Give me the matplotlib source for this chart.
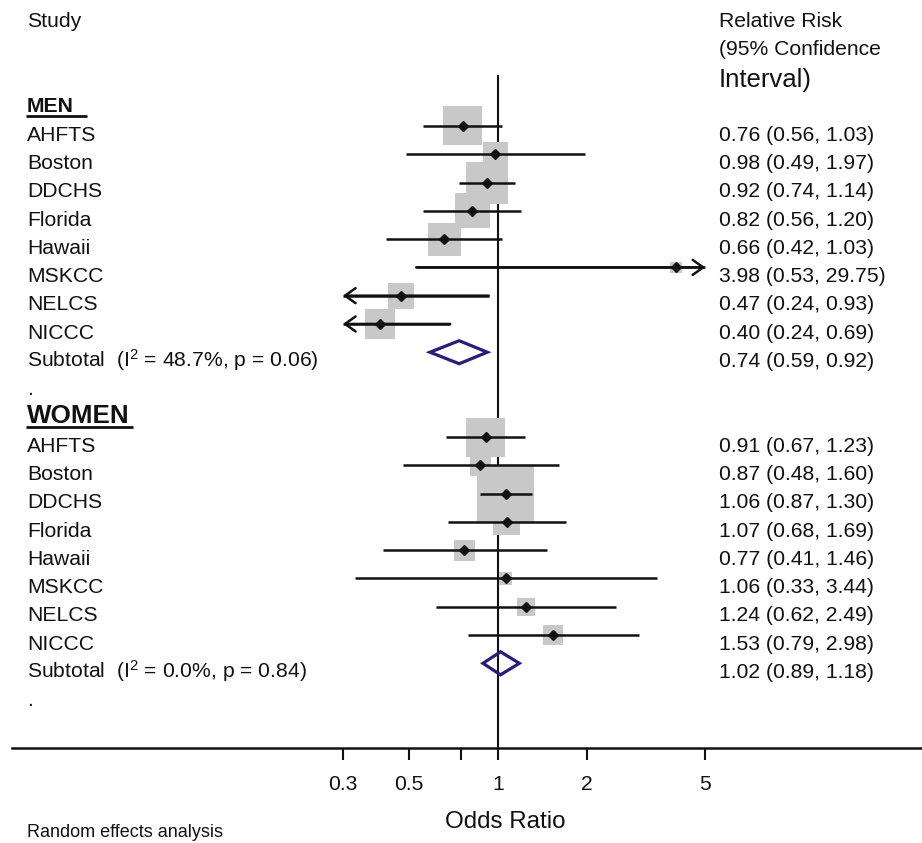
import numpy as np
import matplotlib
matplotlib.use('Agg')
import matplotlib.pyplot as plt
from matplotlib.lines import Line2D
from matplotlib.ticker import NullLocator

plt.rcParams['font.family'] = ['Liberation Sans', 'DejaVu Sans']
plt.rcParams['mathtext.fontset'] = 'custom'
plt.rcParams['mathtext.rm'] = 'Liberation Sans'
plt.rcParams['mathtext.it'] = 'Liberation Sans:italic'
plt.rcParams['mathtext.bf'] = 'Liberation Sans:bold'

# ---------------- data ----------------
studies = ['AHFTS', 'Boston', 'DDCHS', 'Florida', 'Hawaii', 'MSKCC', 'NELCS', 'NICCC']

men_rr = [0.76, 0.98, 0.92, 0.82, 0.66, 3.98, 0.47, 0.40]
men_lo = [0.56, 0.49, 0.74, 0.56, 0.42, 0.53, 0.24, 0.24]
men_hi = [1.03, 1.97, 1.14, 1.20, 1.03, 29.75, 0.93, 0.69]
men_weight = [9.9, 4.2, 11.5, 8.0, 7.1, 0.8, 4.4, 5.9]
men_subtotal = [0.74, 0.59, 0.92]
men_i2 = '48.7%'
men_p = '0.06'

women_rr = [0.91, 0.87, 1.06, 1.07, 0.77, 1.06, 1.24, 1.53]
women_lo = [0.67, 0.48, 0.87, 0.68, 0.41, 0.33, 0.62, 0.79]
women_hi = [1.23, 1.60, 1.30, 1.69, 1.46, 3.44, 2.49, 2.98]
women_weight = [9.9, 2.9, 21.2, 4.7, 2.9, 1.0, 2.1, 2.5]
women_subtotal = [1.02, 0.89, 1.18]
women_i2 = '0.0%'
women_p = '0.84'

tick_values = [0.3, 0.5, 0.75, 1, 2, 5]
tick_labels = ['0.3', '0.5', '', '1', '2', '5']

# ---------------- layout ----------------
W, H, DPI = 922, 843, 100
PPD = 296.7        # pixels per decade on x
X1_PX = 498        # pixel position of x = 1
ROW0_PX = 97.7     # pixel y of row 0
ROW_PX = 28.28     # pixel per row
FS = 15.2
TXT = '#111111'
LINE = '#111111'
BOX = '#c8c8c8'
DIAM = '#2c1b7a'

fig = plt.figure(figsize=(W / DPI, H / DPI), dpi=DPI)
ax = fig.add_axes([0, 0, 1, 1])
ax.set_xscale('log')
ax.set_xlim(10 ** (-X1_PX / PPD), 10 ** ((W - X1_PX) / PPD))
ax.set_ylim((H - ROW0_PX) / ROW_PX, -ROW0_PX / ROW_PX)
ax.patch.set_alpha(0)

clip_lo, clip_hi = min(tick_values), max(tick_values)
axis_row = 23
tr_lab = ax.get_yaxis_transform()
BASE = 0.52  # baseline offset (rows) of text below row line

def fpx(x, y):
    return x / W, 1 - y / H

# vertical null line
ax.plot([1, 1], [-0.8, axis_row], color=LINE, lw=1.5, zorder=1, solid_capstyle='butt')

def draw_group(header_row, rr, lo, hi, wt, sub, i2, p, header, header_fs, ul_end):
    rows = np.arange(header_row + 1, header_row + 1 + len(rr))
    # header
    ax.text(27 / W, header_row + BASE, header, transform=tr_lab, fontsize=header_fs,
            fontweight='bold', color=TXT, va='baseline', ha='left')
    yline = ROW0_PX + (header_row + 0.645) * ROW_PX
    fig.add_artist(Line2D([26 / W, ul_end / W], [1 - yline / H] * 2, transform=fig.transFigure,
                          color=TXT, lw=2.0, solid_capstyle='butt'))
    # boxes
    sides_pt = 12.39 * np.sqrt(np.array(wt)) * 72 / DPI
    ax.scatter(rr, rows, s=sides_pt ** 2, marker='s', color=BOX, linewidths=0, zorder=2)
    # CI lines
    for r, l, h, y in zip(rr, lo, hi, rows):
        lc, hc = max(l, clip_lo), min(h, clip_hi)
        ax.plot([lc, hc], [y, y], color=LINE, lw=1.8, zorder=3, solid_capstyle='butt')
        arrow = dict(arrowstyle='->,head_length=0.38,head_width=0.27', lw=1.8, color=LINE,
                     shrinkA=0, shrinkB=0, mutation_scale=20)
        if l < clip_lo:
            ax.annotate('', xy=(lc, y), xytext=(hc, y), arrowprops=arrow, zorder=3)
        if h > clip_hi:
            ax.annotate('', xy=(hc, y), xytext=(lc, y), arrowprops=arrow, zorder=3)
    ax.plot(rr, rows, linestyle='none', marker='D', ms=5, color=LINE, zorder=4)
    # labels
    for name, r, l, h, y in zip(studies, rr, lo, hi, rows):
        ax.text(27 / W, y + BASE, name, transform=tr_lab, fontsize=FS, color=TXT, va='baseline')
        ax.text(719 / W, y + BASE, f'{r:.2f} ({l:.2f}, {h:.2f})', transform=tr_lab,
                fontsize=FS, color=TXT, va='baseline')
    # subtotal diamond
    srow = rows[-1] + 1
    e, sl, sh = sub
    hh = 0.407
    ax.fill([sl, e, sh, e, sl], [srow, srow - hh, srow, srow + hh, srow], facecolor='none',
            edgecolor=DIAM, lw=2.3, zorder=3, joinstyle='miter')
    ax.text(27 / W, srow + BASE, f'Subtotal  (I$^2$ = {i2}, p = {p})', transform=tr_lab,
            fontsize=FS, color=TXT, va='baseline')
    ax.text(719 / W, srow + BASE, f'{e:.2f} ({sl:.2f}, {sh:.2f})', transform=tr_lab,
            fontsize=FS, color=TXT, va='baseline')
    ax.text(27 / W, srow + 1 + BASE, '.', transform=tr_lab, fontsize=FS, color=TXT, va='baseline')

draw_group(0, men_rr, men_lo, men_hi, men_weight, men_subtotal, men_i2, men_p, 'MEN', FS, 87)
draw_group(11, women_rr, women_lo, women_hi, women_weight, women_subtotal, women_i2, women_p,
           'WOMEN', 18.7, 133)

# axis
for s in ['left', 'right', 'top']:
    ax.spines[s].set_visible(False)
ax.spines['bottom'].set_position(('data', axis_row))
ax.spines['bottom'].set_linewidth(1.8)
ax.spines['bottom'].set_color(LINE)
ax.spines['bottom'].set_bounds(10 ** ((12 - X1_PX) / PPD), ax.get_xlim()[1])
ax.set_xticks(tick_values)
ax.set_xticklabels(tick_labels)
ax.xaxis.set_minor_locator(NullLocator())
ax.set_yticks([])
ax.tick_params(axis='x', direction='out', length=8.6, width=1.5, pad=11, labelsize=FS,
               colors=LINE, labelcolor=TXT)

# header and footer texts
fig.text(*fpx(27, 27), 'Study', fontsize=FS, color=TXT, va='baseline')
fig.text(*fpx(719, 26.7), 'Relative Risk', fontsize=FS, color=TXT, va='baseline')
fig.text(*fpx(719, 55), '(95% Confidence', fontsize=FS, color=TXT, va='baseline')
fig.text(*fpx(719, 87.3), 'Interval)', fontsize=18.5, color=TXT, va='baseline')
fig.text(*fpx(505, 828), 'Odds Ratio', fontsize=17.4, color=TXT, va='baseline', ha='center')
fig.text(*fpx(27, 836.7), 'Random effects analysis', fontsize=13, color=TXT, va='baseline')

fig.savefig('out.png', dpi=DPI, facecolor='white')
